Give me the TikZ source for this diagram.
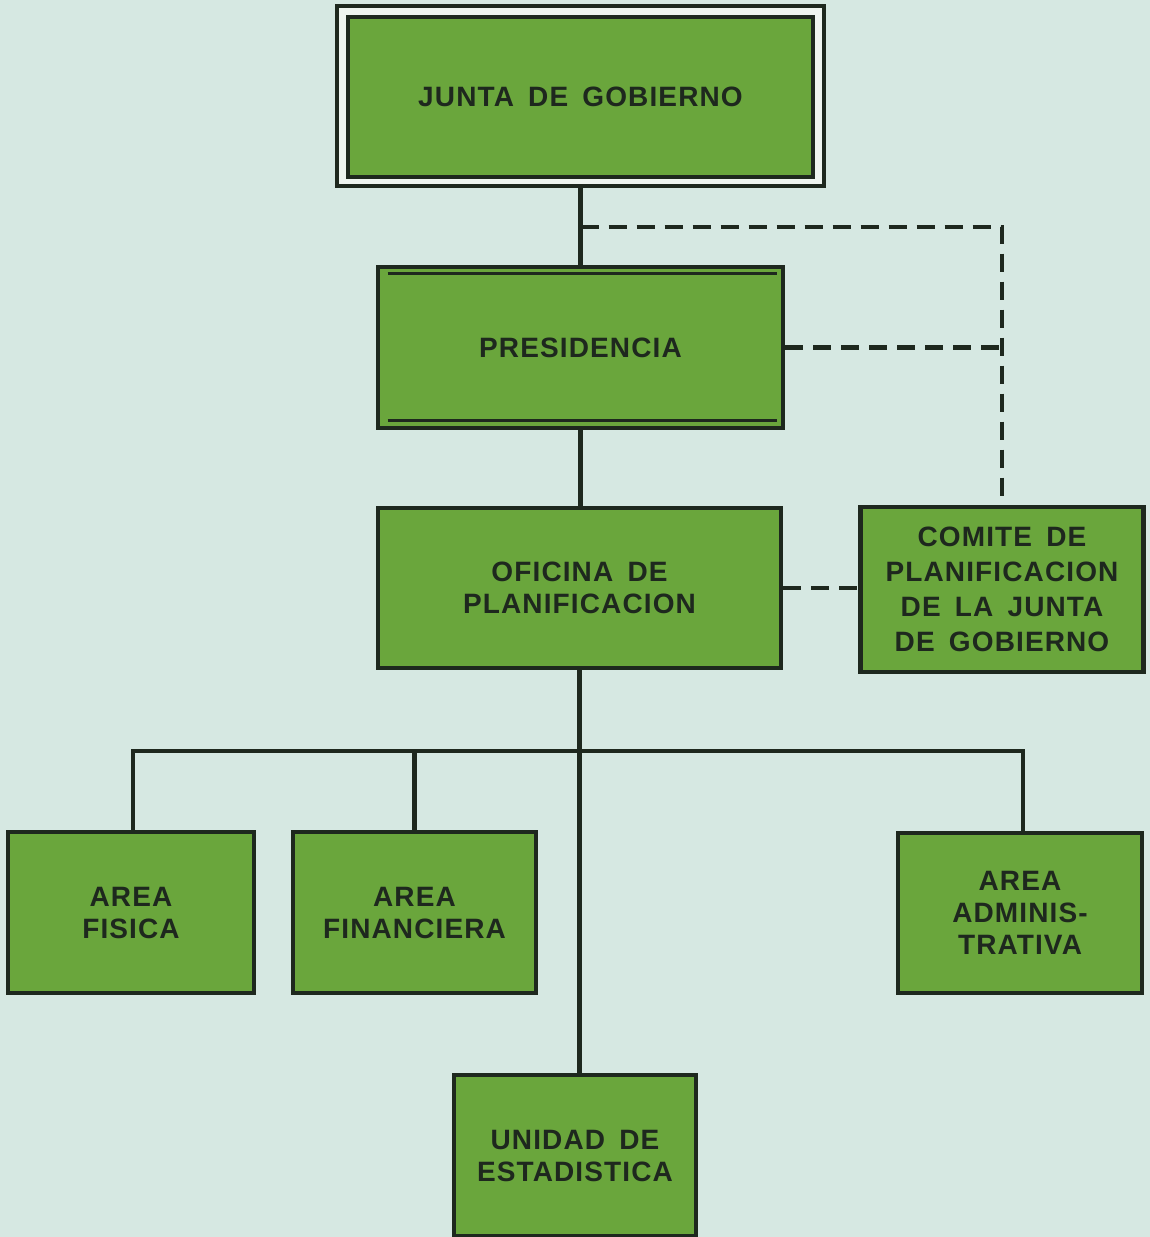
\documentclass[tikz,border=0pt]{standalone}
\usepackage{fontspec}
\newfontfamily\boxfam[LetterSpace=4,WordSpace=1.6]{Liberation Sans}
\definecolor{bg}{HTML}{D6E8E2}
\definecolor{boxgreen}{HTML}{6AA63C}
\definecolor{ink}{HTML}{1E281E}
\definecolor{band}{HTML}{EEF4EF}
\tikzset{
  box/.style={draw=ink, line width=2.3pt, fill=boxgreen, align=center, text=ink,
    inner sep=0pt, font=\boxfam\bfseries\fontsize{14}{16}\selectfont},
  frame/.style={draw=ink, line width=1.6pt, fill=band, inner sep=0pt},
  conn/.style={draw=ink, line width=2.1pt},
  dashline/.style={draw=ink, line width=2.1pt, dash pattern=on 9pt off 5pt},
  innerrule/.style={draw=ink, line width=1.6pt}
}
\begin{document}
\begin{tikzpicture}[x=0.5pt,y=-0.5pt]
\useasboundingbox (0,0) rectangle (1150,1237);
\fill[bg] (0,0) rectangle (1150,1237);

% Junta de Gobierno (double frame)
\node[frame, minimum width=243.5pt, minimum height=90pt] (juntaframe) at (580.5,96) {};
\node[box, minimum width=232.5pt, minimum height=80pt] (junta) at (580.5,97) {JUNTA DE GOBIERNO};

% Presidencia
\node[box, minimum width=202.5pt, minimum height=80.5pt] (pres) at (580.5,347.5) {PRESIDENCIA};
\draw[innerrule] ([xshift=6pt,yshift=-4.5pt]pres.north west) -- ([xshift=-4pt,yshift=-4.5pt]pres.north east);
\draw[innerrule] ([xshift=6pt,yshift=5pt]pres.south west) -- ([xshift=-4pt,yshift=5pt]pres.south east);

% Oficina de Planificacion
\node[box, minimum width=201.5pt, minimum height=80pt] (ofi) at (579.5,588) {OFICINA DE\\PLANIFICACION};

% Comite
\node[box, minimum width=141.5pt, minimum height=82.5pt,
  font=\boxfam\bfseries\fontsize{14}{17.5}\selectfont] (comite) at (1002,589.5)
  {COMITE DE\\PLANIFICACION\\DE LA JUNTA\\DE GOBIERNO};

% Areas
\node[box, minimum width=123pt, minimum height=80.5pt] (fisica) at (131,912.5) {AREA\\FISICA};
\node[box, minimum width=121.5pt, minimum height=80.5pt] (finan) at (414.5,912.5) {AREA\\FINANCIERA};
\node[box, minimum width=122pt, minimum height=80pt] (admin) at (1020,913) {AREA\\ADMINIS-\\TRATIVA};
\node[box, minimum width=121pt, minimum height=80.5pt] (unidad) at (575,1155.5) {UNIDAD DE\\ESTADISTICA};

% solid connectors
\draw[conn] (juntaframe.south) -- (pres.north);
\draw[conn] (pres.south) -- (pres.south |- ofi.north);
\coordinate (bus) at (578,751);
\draw[conn] (ofi.south) -- (ofi.south |- unidad.north);
\draw[conn] ([xshift=1pt]fisica.north) |- (bus) -| ([xshift=1.5pt]admin.north);
\draw[conn] (finan.north) -- (finan.north |- bus);

% dashed connectors
\coordinate (jp) at (580.5,227);
\draw[dashline] (jp) -| (comite.north);
\draw[dashline] (pres.east) -- (pres.east -| comite.north);
\draw[dashline] (ofi.east) -- (ofi.east -| comite.west);
\end{tikzpicture}
\end{document}
